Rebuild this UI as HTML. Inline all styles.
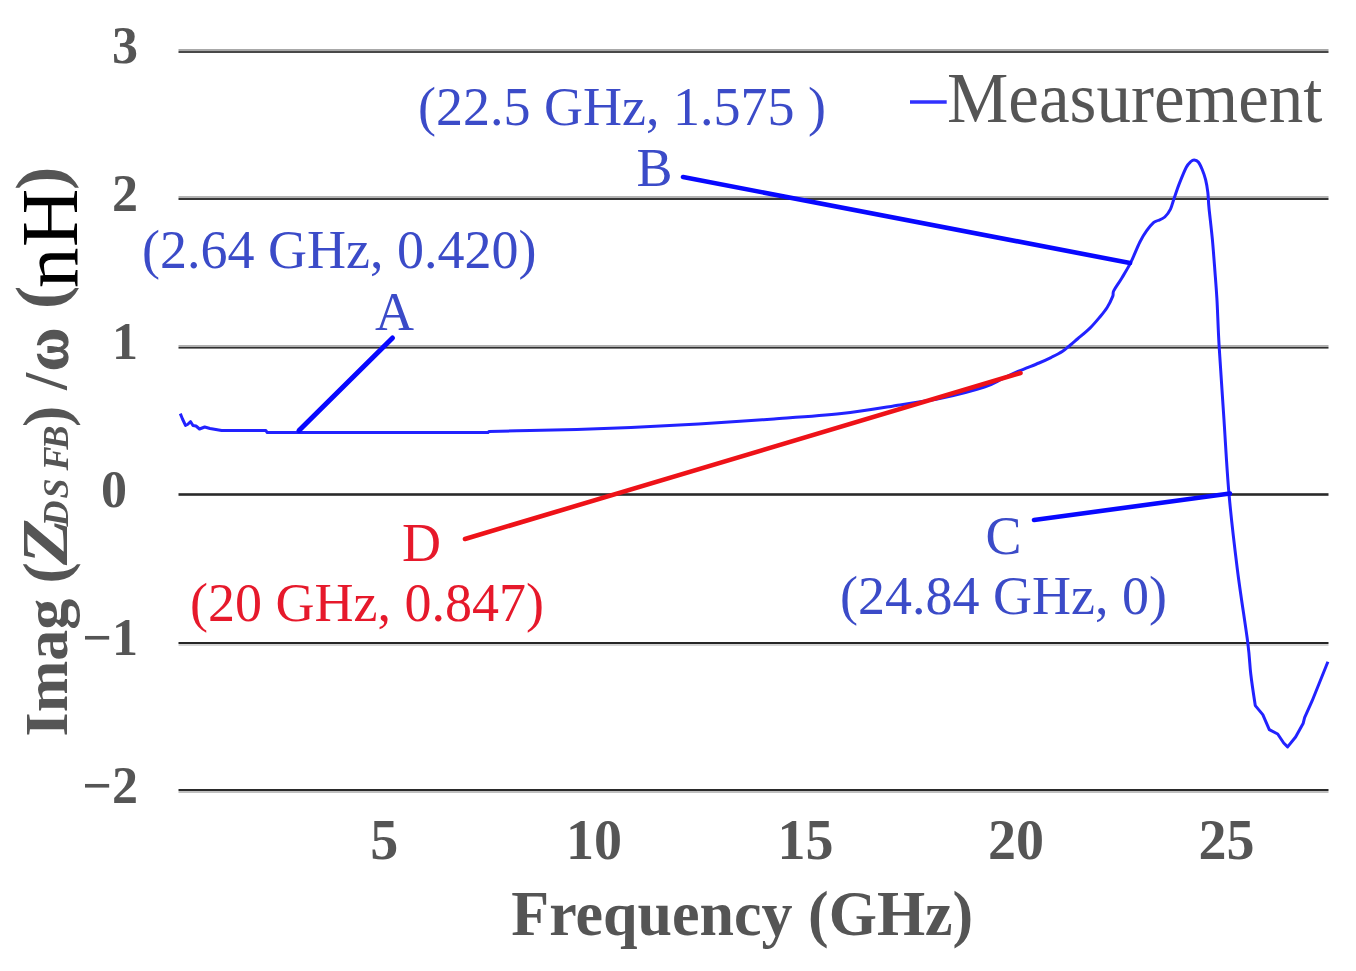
<!DOCTYPE html>
<html><head><meta charset="utf-8">
<style>
html,body{margin:0;padding:0;background:#fff;}
body{width:1356px;height:971px;overflow:hidden;}
svg{display:block;filter:blur(0.45px);}
text{font-family:"Liberation Serif",serif;}
.yt{font-weight:bold;font-size:52px;fill:#555;}
.xt{font-weight:bold;font-size:56px;fill:#555;}
.ann{font-size:54px;fill:#3b4bc8;}
.red{fill:#e6192b;}
.g{font-weight:bold;fill:#555;}
</style></head><body>
<svg width="1356" height="971" viewBox="0 0 1356 971">
<defs><filter id="idf" x="-20%" y="-20%" width="140%" height="140%"><feOffset dx="0" dy="0"/></filter></defs>
<rect width="1356" height="971" fill="#fff"/>
<!-- gridlines -->
<g id="grid">
<rect x="178.5" y="49" width="1150" height="2" fill="#a8a8a8"/><rect x="178.5" y="51" width="1150" height="2" fill="#484848"/>
<rect x="178.5" y="196" width="1150" height="2" fill="#b4b4b4"/><rect x="178.5" y="198" width="1150" height="2" fill="#363636"/>
<rect x="178.5" y="345" width="1150" height="2" fill="#b0b0b0"/><rect x="178.5" y="347" width="1150" height="1.6" fill="#303030"/>
<rect x="178.5" y="493.2" width="1150" height="2.6" fill="#2a2a2a"/>
<rect x="178.5" y="642" width="1150" height="2" fill="#262626"/><rect x="178.5" y="644" width="1150" height="2" fill="#d5d5d5"/>
<rect x="178.5" y="789" width="1150" height="2" fill="#2a2a2a"/><rect x="178.5" y="791" width="1150" height="2" fill="#c0c0c0"/>
</g>
<!-- y ticks -->
<g class="yt" text-anchor="end">
<text x="138" y="63">3</text>
<text x="138" y="211">2</text>
<text x="138" y="359">1</text>
<text x="127" y="507">0</text>
<text x="138" y="655">−1</text>
<text x="138" y="803">−2</text>
</g>
<!-- x ticks -->
<g class="xt" text-anchor="middle">
<text x="384.3" y="859">5</text>
<text x="594" y="859">10</text>
<text x="805.5" y="859">15</text>
<text x="1016" y="859">20</text>
<text x="1226.5" y="859">25</text>
</g>
<text transform="translate(742.3,934.8) scale(1,1.035)" text-anchor="middle" font-weight="bold" font-size="62" fill="#555">Frequency (GHz)</text>
<!-- y title (pieces) -->
<g id="ytitle" transform="rotate(-90)">
<text class="g" x="-736.5" y="66.8" font-size="62">Imag</text>
<text class="g" x="-583.5" y="66.8" font-size="64">(</text>
<text class="g" transform="translate(-565,66.8) scale(1.15,1)" font-size="66" font-style="italic">Z</text>
<g transform="scale(0.1)" font-size="360" font-style="italic" class="g" filter="url(#idf)">
<text x="-5265" y="675">D</text>
<text x="-4985" y="675">S</text>
<text x="-4705" y="675">F</text>
<text x="-4495" y="675">B</text>
</g>
<text class="g" x="-427" y="66.8" font-size="64">)</text>
<text class="g" x="-390" y="66.3" font-size="62">/</text>
<text class="g" transform="translate(-371,66.8) scale(0.92,1)" font-size="64" stroke="#555" stroke-width="1.2">ω</text>
<text class="g" x="-309" y="64" font-size="70">(</text>
<text x="-288" y="77.4" font-size="81" fill="#000">n</text>
<text x="-247" y="77.4" font-size="81" fill="#000">H</text>
<text class="g" x="-190" y="64" font-size="70">)</text>
</g>
<!-- legend -->
<line x1="910" y1="102" x2="946.7" y2="102" stroke="#3030ff" stroke-width="3.4"/>
<text transform="translate(947,122.3) scale(1,1.035)" font-size="69" fill="#555">Measurement</text>
<!-- curve -->
<path id="curve" fill="none" stroke="#2222ff" stroke-width="3" stroke-linejoin="round" d="M180.3,413.6 L182.5,419 L185.5,425.4 L187.5,424.5 L190.6,421.7 L193,425.5 L196,426 L199.5,429 L204.7,427 L210,428.5 L221.6,430.6 L265.9,430.6 L267.3,432.6 L488,432.6 L489,431.4 C495.8,431.3 515.4,430.9 530,430.6 C544.6,430.3 559.9,430.0 576.7,429.5 C593.5,429.0 610.7,428.3 631,427.4 C651.3,426.5 674.8,425.4 698.6,424 C722.4,422.6 750.2,420.7 774,419 C797.8,417.3 820.5,415.9 841.5,413.6 C862.5,411.3 883.2,407.6 900,405 C916.8,402.4 927.9,401.0 942,398 C956.1,395.0 974.4,390.2 984.4,387 C994.4,383.8 996.4,381.6 1002,379 C1007.6,376.4 1011.8,374.2 1018,371.5 C1024.2,368.8 1033.3,365.4 1039,363 C1044.7,360.6 1048.1,358.9 1052,357 C1055.9,355.1 1059.4,353.4 1062.6,351.3 C1065.8,349.2 1068.4,346.6 1071,344.5 C1073.6,342.4 1074.8,341.2 1078,338.5 C1081.2,335.8 1086.5,331.5 1090,328.1 C1093.5,324.7 1096.3,321.3 1099.1,317.9 C1101.9,314.5 1104.7,311.3 1107,307.7 C1109.3,304.1 1111.6,299.2 1112.7,296.4 C1113.8,293.6 1112.3,293.7 1113.8,290.7 C1115.3,287.7 1118.9,282.9 1121.7,278.2 C1124.5,273.5 1127.8,268.4 1130.8,262.4 C1133.8,256.4 1137.2,247.3 1139.9,242 C1142.6,236.7 1144.4,233.9 1146.7,230.7 C1149.0,227.5 1151.6,224.4 1153.5,222.7 C1155.4,221.0 1156.1,221.4 1158,220.5 C1159.9,219.6 1162.7,218.9 1164.8,217 C1166.9,215.1 1169.0,212.1 1170.5,209.1 C1172.0,206.1 1172.4,203.2 1173.9,198.9 C1175.4,194.6 1177.4,188.4 1179.5,183.1 C1181.6,177.8 1184.4,170.8 1186.3,167.2 C1188.2,163.6 1189.6,162.7 1190.9,161.5 C1192.2,160.3 1193.0,159.8 1194.2,159.9 C1195.4,160.0 1197.0,160.4 1198.3,162 C1199.6,163.6 1201.0,166.6 1202.2,169.5 C1203.4,172.4 1204.7,175.9 1205.6,179.7 C1206.5,183.5 1207.2,187.4 1207.8,192.1 C1208.4,196.8 1208.2,200.1 1209,208 C1209.8,215.9 1211.5,229.9 1212.4,239.7 C1213.3,249.5 1213.8,257.1 1214.6,266.9 C1215.3,276.7 1216.1,285.2 1216.9,298.6 C1217.7,312.0 1218.0,327.2 1219.2,347.4 C1220.4,367.6 1222.4,395.6 1224,420 C1225.6,444.4 1226.8,469.1 1229,494 C1231.2,519.0 1234.3,544.9 1237.4,569.7 C1240.5,594.5 1245.6,625.5 1247.8,642.9 C1250.0,660.3 1249.5,663.8 1250.8,674.3 C1252.0,684.8 1254.5,700.4 1255.3,705.6 L1262.8,714.6 L1269.3,729.6 L1277.7,734 L1283.7,743 L1287.6,746.9 L1295.6,737 L1303.1,723.6 L1304.6,717.6 L1312,701.2 L1327.9,661.7"/>
<!-- annotation lines -->
<line x1="299" y1="430.5" x2="392.5" y2="338" stroke="#0808ff" stroke-width="5" stroke-linecap="round"/>
<line x1="683" y1="177" x2="1130" y2="263" stroke="#0808ff" stroke-width="4.6" stroke-linecap="round"/>
<line x1="1034" y1="520" x2="1230" y2="493.5" stroke="#0808ff" stroke-width="4.6" stroke-linecap="round"/>
<line x1="465" y1="539" x2="1020.5" y2="373" stroke="#ee1218" stroke-width="4.6" stroke-linecap="round"/>
<!-- annotation text -->
<g class="ann">
<text x="418" y="125.2">(22.5 GHz, 1.575 )</text>
<text x="636.5" y="186.2">B</text>
<text x="142" y="268.2">(2.64 GHz, 0.420)</text>
<text x="375" y="330">A</text>
<text x="985.5" y="554">C</text>
<text x="840" y="613.8">(24.84 GHz, 0)</text>
<text x="402" y="561.2" class="red">D</text>
<text x="190" y="621.1" class="red">(20 GHz, 0.847)</text>
</g>
</svg>
</body></html>
